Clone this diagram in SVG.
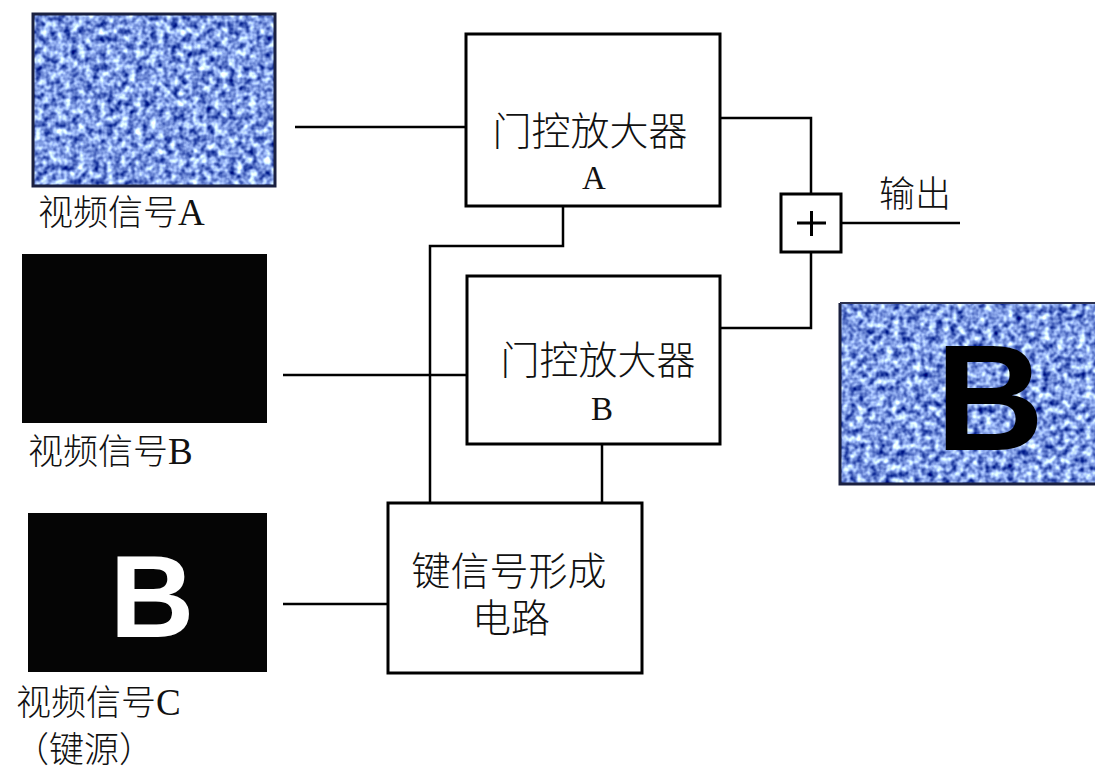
<svg xmlns="http://www.w3.org/2000/svg" width="1095" height="772" viewBox="0 0 1095 772">
<style>
.box{fill:#fff;stroke:#000;stroke-width:3}
.wire{fill:none;stroke:#000;stroke-width:2.5}
.t{font-family:"Liberation Serif","Noto Sans CJK SC",serif;font-weight:300;fill:#111}
.lat{font-family:"Liberation Serif",serif;font-weight:normal}
.big{font-family:"Liberation Sans",Arial,sans-serif;font-weight:bold}
</style>
<defs>
<filter id="noise" x="0" y="0" width="100%" height="100%" color-interpolation-filters="sRGB">
<feTurbulence type="fractalNoise" baseFrequency="0.14" numOctaves="2" seed="4" result="n"/>
<feColorMatrix in="n" type="matrix" values="1.6 0 0 0 -0.3  1.6 0 0 0 -0.19  1.1 0 0 0 0.34  0 0 0 0 1"/>
</filter>
</defs>
<rect width="1095" height="772" fill="#fff"/>

<g id="videoA">
<rect x="33" y="14" width="242" height="172" filter="url(#noise)"/>
<rect x="33" y="14" width="242" height="172" fill="none" stroke="#1a2040" stroke-width="3"/>
<text class="t" x="38" y="225" font-size="35">视频信号<tspan class="lat" font-size="37">A</tspan></text>
</g>

<g id="videoB">
<rect x="22" y="254" width="245" height="169" fill="#050505"/>
<text class="t" x="28" y="464" font-size="35">视频信号<tspan class="lat" font-size="37">B</tspan></text>
</g>

<g id="videoC">
<rect x="28" y="513" width="239" height="159" fill="#050505"/>
<text class="big" x="152" y="637" font-size="117" fill="#fff" text-anchor="middle">B</text>
<text class="t" x="16" y="715" font-size="35">视频信号<tspan class="lat" font-size="37">C</tspan></text>
<text class="t" x="14" y="762" font-size="35">（键源）</text>
</g>

<g id="ampA">
<rect class="box" x="466" y="34" width="254" height="172"/>
<text class="t" x="590" y="145" font-size="39" text-anchor="middle">门控放大器</text>
<text class="t lat" x="594" y="189" font-size="33" text-anchor="middle">A</text>
</g>

<g id="ampB">
<rect class="box" x="467" y="276" width="253" height="168"/>
<text class="t" x="598" y="374" font-size="39" text-anchor="middle">门控放大器</text>
<text class="t lat" x="602" y="420" font-size="33" text-anchor="middle">B</text>
</g>

<g id="keygen">
<rect class="box" x="388" y="503" width="254" height="170"/>
<text class="t" x="509" y="585" font-size="39" text-anchor="middle">键信号形成</text>
<text class="t" x="511" y="632" font-size="39" text-anchor="middle">电路</text>
</g>

<g id="adder">
<rect class="box" x="781" y="194" width="60" height="58"/>
<path d="M797 223H826M811.5 211V236" stroke="#000" stroke-width="3"/>
</g>

<g id="output">
<text class="t" x="879" y="207" font-size="36">输出</text>
</g>

<g id="outputImage">
<rect x="839" y="303" width="256" height="181" filter="url(#noise)"/>
<path d="M840 303V484H1095" fill="none" stroke="#1a2040" stroke-width="3"/>
<path d="M840 303H1095" fill="none" stroke="#2a3050" stroke-width="2"/>
<text class="big" x="990" y="450" font-size="150" fill="#000" text-anchor="middle">B</text>
</g>

<g id="connectors">
<path class="wire" d="M295 127H466"/>
<path class="wire" d="M283 375H467"/>
<path class="wire" d="M283 604H388"/>
<path class="wire" d="M563 206V246H430V503"/>
<path class="wire" d="M602 444V503"/>
<path class="wire" d="M720 118H811V194"/>
<path class="wire" d="M811 252V328H720"/>
<path class="wire" d="M841 223H960"/>
</g>
</svg>
